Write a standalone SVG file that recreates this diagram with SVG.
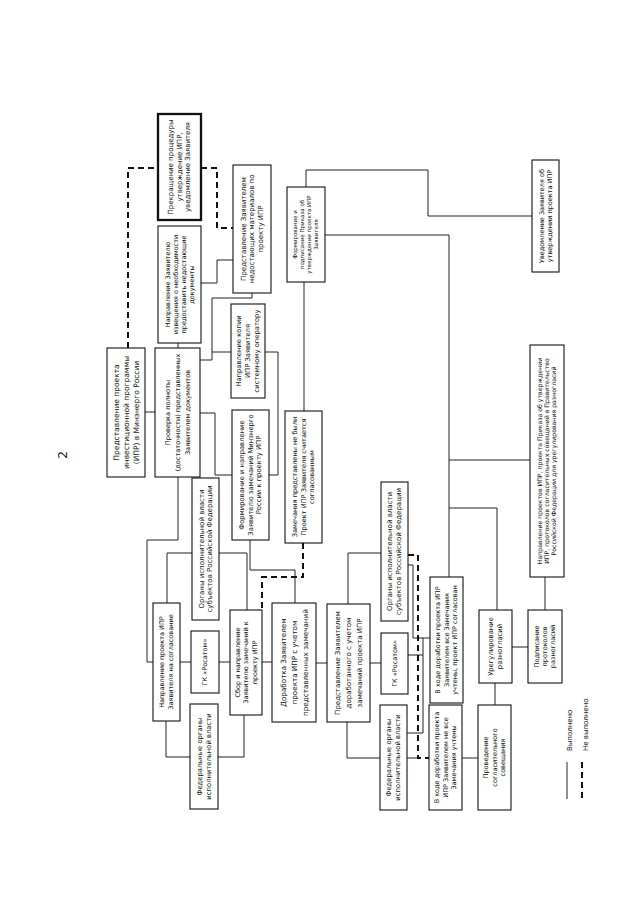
<svg xmlns="http://www.w3.org/2000/svg" width="640" height="905" viewBox="0 0 640 905">
<style>
.bg{fill:#fff}
.box{fill:#fff;stroke:#111;stroke-width:1.1}
.thick{stroke-width:2.3}
.ln{fill:none;stroke:#222;stroke-width:1}
.dash{fill:none;stroke:#111;stroke-width:2;stroke-dasharray:6 4}
.t{font-family:"DejaVu Sans","Liberation Sans",sans-serif;text-anchor:middle;fill:#111}
</style>
<rect class="bg" x="0" y="0" width="640" height="905"/>
<text class="t" font-size="12" transform="translate(63,455) rotate(-90)" y="4.2">2</text>

<g id="connectors">
<path class="ln" d="M145,412H155"/>
<path class="ln" d="M178,343V348"/>
<path class="ln" d="M201,283H217V260H233"/>
<path class="ln" d="M252,293V298H212V360H200"/>
<path class="ln" d="M212,352H231"/>
<path class="ln" d="M265,352H278V475H269"/>
<path class="ln" d="M200,413H215V475H232"/>
<path class="ln" d="M178,477V540H147V662H153"/>
<path class="ln" d="M167,603V553H192"/>
<path class="ln" d="M180,662H191"/>
<path class="ln" d="M166,721V757H190"/>
<path class="ln" d="M219,553H247V610"/>
<path class="ln" d="M219,662H230"/>
<path class="ln" d="M218,757H244V715"/>
<path class="ln" d="M250,540V570H295V603"/>
<path class="ln" d="M262,662H272"/>
<path class="ln" d="M316,663H327"/>
<path class="ln" d="M348,604V553H381"/>
<path class="ln" d="M370,663H381"/>
<path class="ln" d="M347,722V758H380"/>
<path class="ln" d="M304,411V282"/>
<path class="ln" d="M306,187V170H428V216H532"/>
<path class="ln" d="M325,235H449V577"/>
<path class="ln" d="M449,460H530"/>
<path class="ln" d="M449,508H497V610"/>
<path class="ln" d="M545,577V610"/>
<path class="ln" d="M512,647H528"/>
<path class="ln" d="M495,683V705"/>
<path class="ln" d="M462,758H478"/>
<path class="ln" d="M408,565H413V638H430"/>
<path class="ln" d="M407,733H423V638"/>
<path class="ln" d="M408,655H423"/>
<path class="ln" d="M407,758H418"/>
<path class="dash" d="M128,348V168H158"/>
<path class="dash" d="M201,168H217V228H233"/>
<path class="dash" d="M303,543V577H262V610"/>
<path class="dash" d="M408,555H418V758H429"/>
</g>

<g id="n-predstavlenie">
<rect class="box" x="107" y="348" width="38" height="129"/>
<text class="t" font-size="7.5" transform="translate(126,412.5) rotate(-90)"><tspan x="0" y="-7.4">Представление проекта</tspan><tspan x="0" y="2.6">инвестиционной программы</tspan><tspan x="0" y="12.6">(ИПР) в Минэнерго России</tspan></text>
</g>
<g id="n-proverka">
<rect class="box" x="155" y="348" width="45" height="129"/>
<text class="t" font-size="6.6" transform="translate(177.5,412.5) rotate(-90)"><tspan x="0" y="-7.7">Проверка полноты</tspan><tspan x="0" y="2.3">(достаточности) представленных</tspan><tspan x="0" y="12.3">Заявителем документов</tspan></text>
</g>
<g id="n-izveshchenie">
<rect class="box" x="158" y="226" width="43" height="117"/>
<text class="t" font-size="6.5" transform="translate(179.5,284.5) rotate(-90)"><tspan x="0" y="-9.7">Направление Заявителю</tspan><tspan x="0" y="-1.7">извещения о необходимости</tspan><tspan x="0" y="6.3">предоставить недостающие</tspan><tspan x="0" y="14.3">документы</tspan></text>
</g>
<g id="n-prekrashchenie">
<rect class="box thick" x="158" y="114" width="43" height="106"/>
<text class="t" font-size="7" transform="translate(179.5,167) rotate(-90)"><tspan x="0" y="-6.05">Прекращение процедуры</tspan><tspan x="0" y="2.45">утверждение ИПР,</tspan><tspan x="0" y="10.95">уведомление Заявителя</tspan></text>
</g>
<g id="n-nedostayushchie">
<rect class="box" x="233" y="165" width="38" height="128"/>
<text class="t" font-size="7" transform="translate(252,229) rotate(-90)"><tspan x="0" y="-6.05">Представление Заявителем</tspan><tspan x="0" y="2.45">недостающих материалов по</tspan><tspan x="0" y="10.95">проекту ИПР</tspan></text>
</g>
<g id="n-kopiya">
<rect class="box" x="231" y="304" width="34" height="94"/>
<text class="t" font-size="6.8" transform="translate(248,351) rotate(-90)"><tspan x="0" y="-6.6">Направление копии</tspan><tspan x="0" y="2.4">ИПР Заявителя</tspan><tspan x="0" y="11.4">системному оператору</tspan></text>
</g>
<g id="n-formirovanie-zamechaniy">
<rect class="box" x="232" y="410" width="37" height="130"/>
<text class="t" font-size="6.8" transform="translate(250.5,475) rotate(-90)"><tspan x="0" y="-6.1">Формирование и направление</tspan><tspan x="0" y="2.4">Заявителю замечаний Минэнерго</tspan><tspan x="0" y="10.9">России к проекту ИПР</tspan></text>
</g>
<g id="n-zamechaniya-ne-byli">
<rect class="box" x="285" y="411" width="37" height="132"/>
<text class="t" font-size="6.6" transform="translate(303.5,477) rotate(-90)"><tspan x="0" y="-6.2">Замечания представлены не были</tspan><tspan x="0" y="2.3">Проект ИПР Заявителя считается</tspan><tspan x="0" y="10.8">согласованным</tspan></text>
</g>
<g id="n-prikaz">
<rect class="box" x="287" y="187" width="38" height="95"/>
<text class="t" font-size="5.5" transform="translate(306,234.5) rotate(-90)"><tspan x="0" y="-8.6">Формирование и</tspan><tspan x="0" y="-1.6">подписание Приказа об</tspan><tspan x="0" y="5.4">утверждении проекта ИПР</tspan><tspan x="0" y="12.4">Заявителя</tspan></text>
</g>
<g id="n-uvedomlenie">
<rect class="box" x="532" y="160" width="27" height="112"/>
<text class="t" font-size="6.5" transform="translate(545.5,216) rotate(-90)"><tspan x="0" y="-1.45">Уведомление Заявителя об</tspan><tspan x="0" y="6.05">утверждении проекта ИПР</tspan></text>
</g>
<g id="n-pravitelstvo">
<rect class="box" x="530" y="345" width="34" height="232"/>
<text class="t" font-size="6.2" transform="translate(547,461) rotate(-90)"><tspan x="0" y="-4.8">Направление проектов ИПР, проекта Приказа об утверждении</tspan><tspan x="0" y="2.2">ИПР, протоколов согласительных совещаний  в Правительство</tspan><tspan x="0" y="9.2">Российской Федерации для урегулирования разногласий</tspan></text>
</g>
<g id="n-podpisanie">
<rect class="box" x="528" y="610" width="34" height="73"/>
<text class="t" font-size="6.5" transform="translate(545,646.5) rotate(-90)"><tspan x="0" y="-5.7">Подписание</tspan><tspan x="0" y="2.3">протоколов</tspan><tspan x="0" y="10.3">разногласий</tspan></text>
</g>
<g id="n-uregulirovanie">
<rect class="box" x="479" y="610" width="33" height="73"/>
<text class="t" font-size="6.8" transform="translate(495.5,646.5) rotate(-90)"><tspan x="0" y="-2.1">Урегулирование</tspan><tspan x="0" y="6.9">разногласий</tspan></text>
</g>
<g id="n-soveshchanie">
<rect class="box" x="478" y="705" width="33" height="105"/>
<text class="t" font-size="6.5" transform="translate(494.5,757.5) rotate(-90)"><tspan x="0" y="-6.2">Проведение</tspan><tspan x="0" y="2.3">согласительного</tspan><tspan x="0" y="10.8">совещания</tspan></text>
</g>
<g id="n-vse-uchteny">
<rect class="box" x="430" y="577" width="33" height="126"/>
<text class="t" font-size="6.5" transform="translate(446.5,640) rotate(-90)"><tspan x="0" y="-6.2">В ходе доработки проекта ИПР</tspan><tspan x="0" y="2.3">Заявителем все Замечания</tspan><tspan x="0" y="10.8">учтены, проект ИПР согласован</tspan></text>
</g>
<g id="n-ne-vse-uchteny">
<rect class="box" x="429" y="705" width="33" height="105"/>
<text class="t" font-size="6.5" transform="translate(445.5,757.5) rotate(-90)"><tspan x="0" y="-6.2">В ходе доработки проекта</tspan><tspan x="0" y="2.3">ИПР Заявителем не все</tspan><tspan x="0" y="10.8">Замечания учтены</tspan></text>
</g>
<g id="n-soglasovanie">
<rect class="box" x="153" y="603" width="27" height="118"/>
<text class="t" font-size="6.5" transform="translate(166.5,662) rotate(-90)"><tspan x="0" y="-2.2">Направление проекта ИПР</tspan><tspan x="0" y="6.8">Заявителя на согласование</tspan></text>
</g>
<g id="n-organy-1">
<rect class="box" x="192" y="478" width="27" height="142"/>
<text class="t" font-size="7" transform="translate(205.5,549) rotate(-90)"><tspan x="0" y="-1.8">Органы исполнительной власти</tspan><tspan x="0" y="6.7">субъектов Российской Федерации</tspan></text>
</g>
<g id="n-rosatom-1">
<rect class="box" x="191" y="631" width="28" height="62"/>
<text class="t" font-size="6.5" transform="translate(205,662) rotate(-90)" y="2.3">ГК «Росатом»</text>
</g>
<g id="n-federalnye-1">
<rect class="box" x="190" y="704" width="28" height="105"/>
<text class="t" font-size="6.8" transform="translate(204,756.5) rotate(-90)"><tspan x="0" y="-2.1">Федеральные органы</tspan><tspan x="0" y="6.9">исполнительной власти</tspan></text>
</g>
<g id="n-sbor">
<rect class="box" x="230" y="610" width="32" height="105"/>
<text class="t" font-size="6.5" transform="translate(246,662.5) rotate(-90)"><tspan x="0" y="-6.2">Сбор и направление</tspan><tspan x="0" y="2.3">Заявителю замечаний к</tspan><tspan x="0" y="10.8">проекту ИПР</tspan></text>
</g>
<g id="n-dorabotka">
<rect class="box" x="272" y="603" width="44" height="119"/>
<text class="t" font-size="7.2" transform="translate(294,662.5) rotate(-90)"><tspan x="0" y="-8.5">Доработка Заявителем</tspan><tspan x="0" y="2.5">проекта ИПР с учетом</tspan><tspan x="0" y="13.5">представленных замечаний</tspan></text>
</g>
<g id="n-dorabotanniy">
<rect class="box" x="327" y="604" width="43" height="118"/>
<text class="t" font-size="7" transform="translate(348.5,663) rotate(-90)"><tspan x="0" y="-8.55">Представление Заявителем</tspan><tspan x="0" y="2.45">доработанного с учетом</tspan><tspan x="0" y="13.45">замечаний проекта ИПР</tspan></text>
</g>
<g id="n-organy-2">
<rect class="box" x="381" y="482" width="27" height="139"/>
<text class="t" font-size="7" transform="translate(394.5,551.5) rotate(-90)"><tspan x="0" y="-2.05">Органы исполнительной власти</tspan><tspan x="0" y="6.95">субъектов Российской Федерации</tspan></text>
</g>
<g id="n-rosatom-2">
<rect class="box" x="381" y="633" width="27" height="61"/>
<text class="t" font-size="6.5" transform="translate(394.5,663.5) rotate(-90)" y="2.3">ГК «Росатом»</text>
</g>
<g id="n-federalnye-2">
<rect class="box" x="380" y="705" width="27" height="105"/>
<text class="t" font-size="6.8" transform="translate(393.5,757.5) rotate(-90)"><tspan x="0" y="-2.1">Федеральные органы</tspan><tspan x="0" y="6.9">исполнительной власти</tspan></text>
</g>

<g id="legend">
<path class="ln" d="M567,762V799"/>
<text class="t" font-size="7" text-anchor="start" style="text-anchor:start" transform="translate(571.5,751) rotate(-90)">Выполнено</text>
<path class="dash" d="M582,762V799"/>
<text class="t" font-size="7" style="text-anchor:start" transform="translate(587.5,751) rotate(-90)">Не выполнено</text>
</g>
</svg>
